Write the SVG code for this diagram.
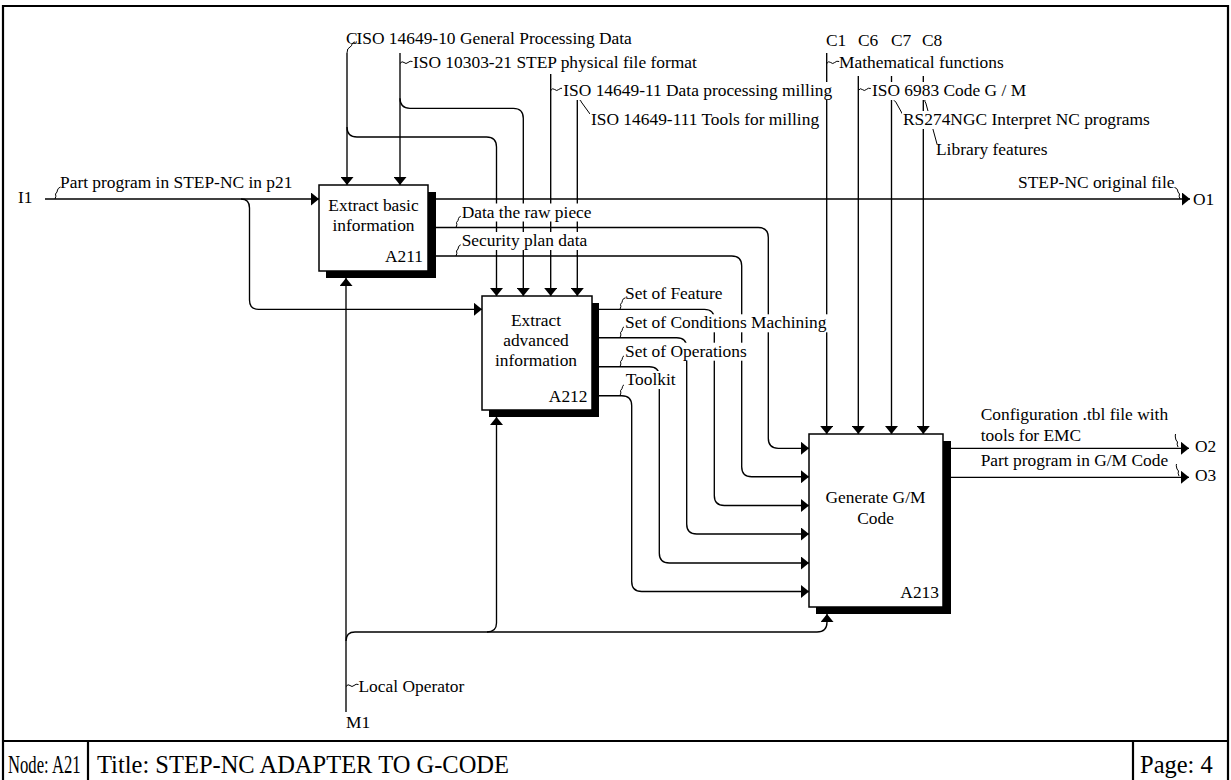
<svg xmlns="http://www.w3.org/2000/svg" width="1231" height="780" viewBox="0 0 1231 780" font-family="'Liberation Serif', 'Times New Roman', serif">
<style>
text{font-family:"Liberation Serif","Times New Roman",serif;font-size:17.4px;fill:#000}
.ln{fill:none;stroke:#000;stroke-width:1.35}
.sq{fill:none;stroke:#000;stroke-width:1}
.bg{fill:#fff}
.box{fill:#fff;stroke:#000;stroke-width:1.5}
.sh{fill:#000}
.ft{font-size:24.5px}
.frame{fill:none;stroke:#000;stroke-width:2.2}
.mid{text-anchor:middle}
.end{text-anchor:end}
</style>
<defs>
<marker id="ah" viewBox="0 0 8 13" refX="8" refY="6.5" markerWidth="8" markerHeight="13" markerUnits="userSpaceOnUse" orient="auto"><path d="M0,0 L8,6.5 L0,13 Z" fill="#000"/></marker>
</defs>
<rect width="1231" height="780" fill="#fff"/>

<g id="frame">
<path class="frame" d="M3,781 V6 H1228 V781"/>
<path class="frame" d="M3,741 H1228 M88,741 V781 M1133,741 V781"/>
<text class="ft" transform="translate(8,773) scale(0.68,1)" x="0" y="0">Node: A21</text>
<text class="ft" x="97" y="773">Title: STEP-NC ADAPTER TO G-CODE</text>
<text class="ft" x="1140" y="773">Page: 4</text>
</g>

<g id="connectors">
<path class="ln" d="M45,199 H319" marker-end="url(#ah)"/>
<path class="ln" d="M241,199 Q249.5,199 249.5,208 V300 Q249.5,309.3 258.5,309.3 H482" marker-end="url(#ah)"/>
<path class="ln" d="M436,199 H1190" marker-end="url(#ah)"/>
<path class="ln" d="M436,227.5 H758.3 Q768.3,227.5 768.3,237.5 V438.3 Q768.3,448.3 778.3,448.3 H809" marker-end="url(#ah)"/>
<path class="ln" d="M436,256 H731.7 Q741.7,256 741.7,266 V466.7 Q741.7,476.7 751.7,476.7 H809" marker-end="url(#ah)"/>
<path class="ln" d="M599,309.3 H704.3 Q714.3,309.3 714.3,319.3 V495.5 Q714.3,505.5 724.3,505.5 H809" marker-end="url(#ah)"/>
<path class="ln" d="M599,337.7 H676.7 Q686.7,337.7 686.7,347.7 V524 Q686.7,534 696.7,534 H809" marker-end="url(#ah)"/>
<path class="ln" d="M599,366.7 H649.3 Q659.3,366.7 659.3,376.7 V553 Q659.3,563 669.3,563 H809" marker-end="url(#ah)"/>
<path class="ln" d="M599,395.7 H621.7 Q631.7,395.7 631.7,405.7 V581.5 Q631.7,591.5 641.7,591.5 H809" marker-end="url(#ah)"/>
<path class="ln" d="M951,448.3 H1189" marker-end="url(#ah)"/>
<path class="ln" d="M951,477.3 H1189" marker-end="url(#ah)"/>
<path class="ln" d="M347,53 V185" marker-end="url(#ah)"/>
<path class="ln" d="M347,127 Q347,137 357,137 H486.5 Q496.5,137 496.5,147 V296" marker-end="url(#ah)"/>
<path class="ln" d="M400,53 V185" marker-end="url(#ah)"/>
<path class="ln" d="M400,98.3 Q400,108.3 410,108.3 H513.3 Q523.3,108.3 523.3,118.3 V296" marker-end="url(#ah)"/>
<path class="ln" d="M550.7,74 V296" marker-end="url(#ah)"/>
<path class="ln" d="M577.3,97 V296" marker-end="url(#ah)"/>
<path class="ln" d="M826.7,53 V434" marker-end="url(#ah)"/>
<path class="ln" d="M858.3,76 V434" marker-end="url(#ah)"/>
<path class="ln" d="M891.5,76 V434" marker-end="url(#ah)"/>
<path class="ln" d="M923.3,76 V434" marker-end="url(#ah)"/>
<path class="ln" d="M346,712 V278" marker-end="url(#ah)"/>
<path class="ln" d="M346,641 Q346,632 355,632 H817 Q827,632 827,622 V614" marker-end="url(#ah)"/>
<path class="ln" d="M487,632 Q496.5,632 496.5,623 V417" marker-end="url(#ah)"/>
<!-- squiggles -->
<path class="sq" d="M55,199 q1.5,-3 0.5,-5 q2,-2 2,-4 q0.5,-2 3,-3"/>
<path class="sq" d="M456,227.5 q1.5,-3 0.5,-5 q2,-2 2,-4 q0.5,-2 3,-2.5"/>
<path class="sq" d="M456,256 q1.5,-3 0.5,-5 q2,-2 2,-4 q0.5,-2 3,-2.5"/>
<path class="sq" d="M620,309.3 q1.5,-3 0.5,-5 q2,-2 2,-4 q0.5,-2 3,-2.5"/>
<path class="sq" d="M620,337.7 q1.5,-3 0.5,-5 q2,-2 2,-4 q0.5,-2 3,-2.5"/>
<path class="sq" d="M620,366.7 q1.5,-3 0.5,-5 q2,-2 2,-4 q0.5,-2 3,-2.5"/>
<path class="sq" d="M620,395.7 q1.5,-3 0.5,-5 q2,-2 2,-4 q0.5,-2 3,-2.5"/>
<path class="sq" d="M1180,199 q-1.5,-3 -0.5,-5 q-2,-2 -2,-4 q-0.5,-2 -3,-2.5"/>
<path class="sq" d="M1178,447 q-1.5,-3 -0.5,-5 q-2,-2 -2,-4 q-0.5,-2 0,-4"/>
<path class="sq" d="M1179,476 q-1.5,-3 -0.5,-5 q-2,-2 -2,-4 q-0.5,-2 0,-3"/>
<path class="sq" d="M347,53 q0,-5 3,-6 q2,-1 2,-3 q1,-2 3,-2"/>
<path class="sq" d="M400,63.5 q2,-3 4,-1 q2,2 4,0 q2,-2 4.5,-1"/>
<path class="sq" d="M550.7,90.5 q2,-3 4,-1 q2,2 4,0 q2,-2 4.5,-1"/>
<path class="sq" d="M826.7,63.5 q2,-3 4,-1 q2,2 4,0 q2,-2 4.5,-1"/>
<path class="sq" d="M858.3,90.5 q2,-3 4,-1 q2,2 4,0 q2,-2 4.5,-1"/>
<path class="sq" d="M346,686.5 q2,-3 4,-1 q2,2 4,0 q2,-2 4.5,-1"/>
<path class="sq" d="M577.3,97 q1,2 2.5,3 q1,0 1.5,2 L590,114"/>
<path class="sq" d="M891.5,97 q0.5,2 2,3 q1,1 2,1.5 L903,115"/>
<path class="sq" d="M923.3,97 q0.5,2 1.5,3 q0,2 1,3 L937,144"/>
</g>

<g id="labels">
<text x="18" y="203">I1</text>
<text x="60" y="188">Part program in STEP-NC in p21</text>
<rect class="bg" x="356" y="30" width="277" height="18"/>
<text x="346" y="44">C</text>
<text x="356.5" y="44">ISO 14649-10 General Processing Data</text>
<text x="413" y="68">ISO 10303-21 STEP physical file format</text>
<rect class="bg" x="562" y="82" width="272" height="18"/>
<text x="563.3" y="96">ISO 14649-11 Data processing milling</text>
<rect class="bg" x="590" y="111" width="233" height="18"/>
<text x="591" y="125">ISO 14649-111 Tools for milling</text>
<text x="826" y="46">C1</text>
<text x="858" y="46">C6</text>
<text x="891" y="46">C7</text>
<text x="922" y="46">C8</text>
<text x="839" y="68">Mathematical functions</text>
<rect class="bg" x="871" y="82" width="156" height="18"/>
<text x="872" y="96">ISO 6983 Code G / M</text>
<rect class="bg" x="902" y="111" width="249" height="18"/>
<text x="903" y="125">RS274NGC Interpret NC programs</text>
<text x="936" y="155">Library features</text>
<text x="1018" y="188">STEP-NC original file</text>
<text x="1193" y="205">O1</text>
<rect class="bg" x="460.7" y="203.5" width="134" height="18"/>
<text x="461.7" y="217.5">Data the raw piece</text>
<rect class="bg" x="460.7" y="232" width="127" height="18"/>
<text x="461.7" y="246">Security plan data</text>
<text x="625" y="299.3">Set of Feature</text>
<rect class="bg" x="624" y="314.3" width="208" height="18"/>
<text x="625" y="328.3">Set of Conditions Machining</text>
<rect class="bg" x="624" y="342.7" width="124" height="18"/>
<text x="625" y="356.7">Set of Operations</text>
<rect class="bg" x="624" y="371" width="53" height="18"/>
<text x="625.7" y="385">Toolkit</text>
<text x="980.7" y="420">Configuration .tbl file with</text>
<text x="980.7" y="440.7">tools for EMC</text>
<text x="980.7" y="466">Part program in G/M Code</text>
<text x="1195" y="452">O2</text>
<text x="1195" y="481">O3</text>
<text x="358.5" y="691.5">Local Operator</text>
<text x="346" y="728">M1</text>
</g>

<g id="A211">
<rect class="sh" x="326" y="192" width="110" height="86"/>
<rect class="box" x="319" y="185" width="109" height="86"/>
<text class="mid" x="373.5" y="210.5">Extract basic</text>
<text class="mid" x="373.5" y="230.7">information</text>
<text class="end" x="423" y="262">A211</text>
</g>

<g id="A212">
<rect class="sh" x="489" y="303" width="110" height="114"/>
<rect class="box" x="482" y="296" width="110" height="114"/>
<text class="mid" x="536" y="325.7">Extract</text>
<text class="mid" x="536" y="345.7">advanced</text>
<text class="mid" x="536" y="365.7">information</text>
<text class="end" x="587.5" y="401.7">A212</text>
</g>

<g id="A213">
<rect class="sh" x="816" y="441" width="135" height="173"/>
<rect class="box" x="809" y="434" width="134" height="173"/>
<text class="mid" x="875.5" y="503.3">Generate G/M</text>
<text class="mid" x="875.5" y="524">Code</text>
<text class="end" x="939" y="597.7">A213</text>
</g>
</svg>
